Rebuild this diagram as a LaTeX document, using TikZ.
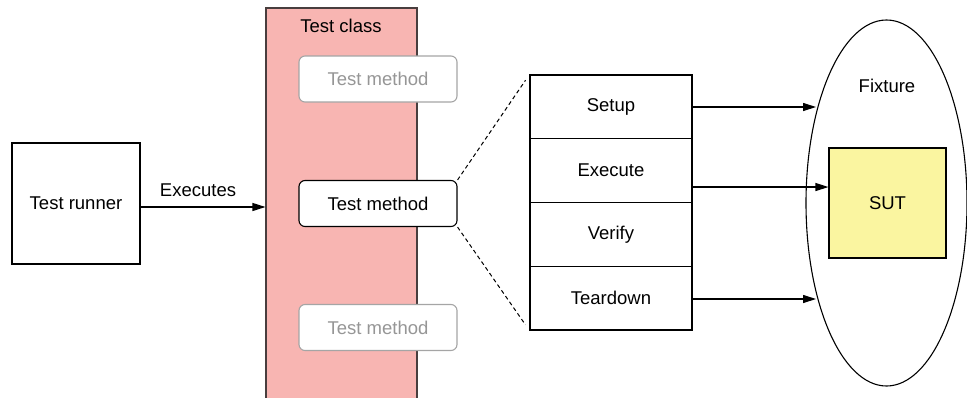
\documentclass[tikz,border=0pt]{standalone}
\usepackage{fontspec}
\setmainfont{Liberation Sans}
\usetikzlibrary{shapes.geometric,arrows.meta,calc}
\definecolor{classfill}{RGB}{248,181,178}
\definecolor{classdraw}{RGB}{72,62,62}
\definecolor{sutfill}{RGB}{250,245,160}
\definecolor{fadetext}{RGB}{150,150,150}
\definecolor{fadedraw}{RGB}{165,165,165}
\begin{document}
\begin{tikzpicture}[x=1pt,y=-1pt,
  every node/.style={font=\fontsize{18.5}{22}\selectfont, inner sep=0pt},
  plainbox/.style={draw=black, line width=1.1pt, fill=white},
  methodbox/.style={draw=black, line width=1.1pt, fill=white, rounded corners=6pt, minimum width=158pt, minimum height=46pt},
  fadebox/.style={methodbox, draw=fadedraw, text=fadetext},
  stepbox/.style={draw=black, line width=1.1pt, fill=white, minimum width=162pt, minimum height=63.75pt},
  arr/.style={-{Triangle[length=13pt,width=8pt]}, line width=1.1pt},
  dashline/.style={line width=1pt, dash pattern=on 4pt off 3pt}]
\useasboundingbox (0,0) rectangle (967,397);
% test runner
\node[plainbox, minimum width=128pt, minimum height=121pt] (runner) at (76,203.5) {Test runner};
% test class
\node[draw=classdraw, fill=classfill, line width=1.1pt, minimum width=151pt, minimum height=394pt] (tclass) at (341.5,205) {};
\node (tclasslbl) at (341,26) {Test class};
% methods
\node[fadebox] (tm1) at (378,79) {Test method};
\node[methodbox] (tm2) at (378,203.5) {Test method};
\node[fadebox] (tm3) at (378,327.5) {Test method};
% executes arrow
\draw[arr] (runner.east |- 0,207) coordinate (ex0) -- (ex0 -| tclass.west) node[pos=0.46, above=10pt] (exlbl) {Executes};
% steps
\node[stepbox] (setup) at (611,106.875) {Setup};
\node[stepbox] (exec) at (611,170.625) {Execute};
\node[stepbox] (verify) at (611,234.375) {Verify};
\node[stepbox] (teardown) at (611,298.125) {Teardown};
% dashed lines
\draw[dashline, shorten >=7pt] (tm2.north east) -- (setup.north west);
\draw[dashline, shorten >=7pt] (tm2.south east) -- (teardown.south west);
% fixture
\node[draw=black, line width=1.1pt, ellipse, minimum width=161pt, minimum height=366pt] (fixture) at (886.5,203) {};
\node (fixlbl) at (887,86) {Fixture};
\node[draw=black, line width=1.1pt, fill=sutfill, minimum width=117pt, minimum height=110pt] (sut) at (887.5,203) {SUT};
% arrows
\coordinate (fixin1) at (816,107);
\coordinate (fixin3) at (816,299);
\draw[arr] (setup.east |- fixin1) -- (fixin1);
\path (exec.east) ++(0,16.4) coordinate (e1);
\draw[arr] (e1) -- (e1 -| sut.west);
\draw[arr] (teardown.east |- fixin3) -- (fixin3);
\end{tikzpicture}
\end{document}
